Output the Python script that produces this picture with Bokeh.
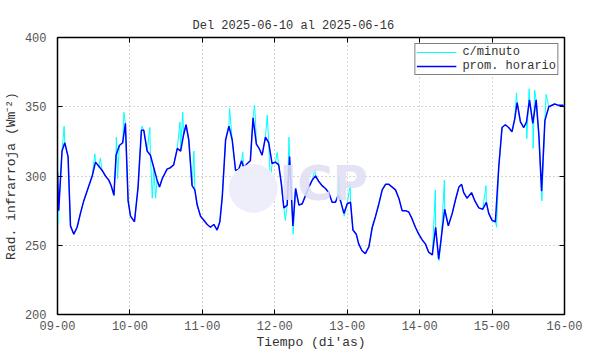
from bokeh.plotting import figure
from bokeh.models import Range1d, FixedTicker, LinearAxis, Legend, LegendItem, Label
from bokeh.embed import file_html
from bokeh.resources import INLINE

# hourly means (hours since 09-00, value W/m2)
hour_t = [0, 0.4, 1.5, 2.4, 3.5, 4.3, 5.4, 6.5, 7.6, 8.7, 10.4, 11.5, 12.6, 13.7, 14.8, 15.9, 17, 17.8,
          18.7, 19.4, 20.5, 21.6, 22.5, 23.4, 24.2, 25.5, 26.7, 27.8, 28.6, 29.7, 30.8, 31.9, 33, 33.8,
          34.7, 36.3, 37.4, 38.5, 39.7, 40.8, 41.8, 42.6, 43.5, 44.6, 45.5, 46.3, 47.4, 48.5, 49.6, 50.7,
          51.8, 52.9, 53.8, 54.6, 55.7, 56.8, 57.9, 59, 60.1, 61, 61.7, 62.9, 63.9, 64.8, 65.9, 66.8,
          67.8, 68.9, 70, 71.1, 72.2, 73.3, 74.2, 75, 76.1, 76.9, 78, 78.9, 80, 81.1, 82.2, 83.3, 84.4,
          85.5, 86.6, 87.7, 88.8, 89.9, 91, 92.1, 93, 93.8, 94.9, 96, 97.1, 97.9, 99, 99.8, 100.9, 102,
          103.2, 104.3, 105.4, 106.5, 107.6, 108.7, 109.8, 110.9, 112, 113.1, 114.2, 115.3, 116.4, 117.5,
          118.6, 119.7, 120.8, 121.9, 123, 124.2, 125.3, 126.3, 127.2, 128.3, 129.5, 130.8, 131.9, 133,
          133.9, 134.6, 135.7, 137.2, 138.3, 139.6, 140.9, 142.1, 142.9, 144, 145.1, 146.2, 147.3, 148.4,
          149.5, 150.6, 151.5, 152.3, 153.4, 154.5, 155.4, 156.4, 157.5, 158.6, 159.5, 160.4, 161.5,
          162.8, 164.7, 166.1, 167.7]
hour_v = [303, 275, 318, 324, 314, 264, 258, 263, 273, 282, 293, 300, 310, 307, 304, 300, 297, 293,
          286, 315, 322, 324, 338, 282, 271, 267, 292, 333, 333, 318, 315, 306, 297, 292,
          298, 305, 306, 308, 320, 318, 330, 337, 326, 293, 290, 279, 271, 268, 265, 263,
          265, 261, 267, 285, 326, 336, 326, 304, 305, 311, 306, 309, 311, 342, 323, 320,
          315, 328, 324, 309, 310, 308, 294, 277, 279, 314, 264, 291, 279, 280, 286, 292, 297,
          300, 296, 293, 291, 288, 281, 281, 286, 282, 273, 280, 281, 261, 258, 251, 246, 244,
          249, 263, 271, 280, 290, 294, 294, 292, 290, 284, 275, 275, 274, 269,
          263, 258, 254, 251, 245, 243, 263, 240, 256, 276, 264, 273, 283, 292,
          294, 288, 284, 288, 282, 277, 276, 281, 273, 268, 267, 306, 335, 337,
          335, 332, 341, 353, 339, 335, 339, 355, 338, 355, 330, 289, 340,
          350, 352, 351, 351]

# per-minute extremes (spikes)
spike_t = [-0.0, 0.2, 2.2, 12.4, 14.2, 19.5, 19.9, 22.0, 28.0, 30.6, 31.4, 32.5, 40.6, 41.5, 45.2,
           57.0, 61.4, 65.3, 65.6, 69.5, 70.5, 72.8, 75.5, 76.7, 78.1, 85.3, 93.2, 95.0, 97.0,
           125.2, 126.4, 128.2, 142.0, 145.5, 152.1, 155.5, 156.3, 157.6, 158.1, 160.5, 161.9]
spike_v = [318, 265, 336, 316, 313, 328, 298, 346, 336, 335, 284, 284, 339, 346, 318,
           349, 317, 351, 341, 344, 295, 317, 268, 328, 258, 305, 300, 271, 294,
           290, 239, 297, 293, 263, 360, 327, 363, 320, 362, 282, 359]

day_ticks = [0, 24, 48, 72, 96, 120, 144, 168]
day_labels = ["09-00", "10-00", "11-00", "12-00", "13-00", "14-00", "15-00", "16-00"]
y_ticks = [200, 250, 300, 350, 400]

pairs = sorted(list(zip(hour_t, hour_v)) + list(zip(spike_t, spike_v)))
min_t = [a for a, b in pairs]
min_v = [b for a, b in pairs]

FONT = "Liberation Mono"
p = figure(width=588, height=353, output_backend="svg", toolbar_location=None,
           x_range=Range1d(0, 168), y_range=Range1d(200, 400),
           min_border_left=57, min_border_right=24, min_border_top=37, min_border_bottom=39)
p.title.text = "Del 2025-06-10 al 2025-06-16"
p.title.align = "left"
p.title.offset = 135
p.title.text_font = FONT
p.title.text_font_size = "12px"
p.title.text_font_style = "normal"
p.title.text_color = "#333333"

p.outline_line_color = "black"
p.outline_line_width = 1.5
p.background_fill_color = "white"
p.border_fill_color = "white"

# faint watermark logo
disc = Label(x=196, y=132, x_units="screen", y_units="screen", text="\u25cf",
             text_font="DejaVu Sans", text_font_size="64px", text_align="center",
             text_baseline="middle", text_color="#eeeefb", text_alpha=1.0)
wm = Label(x=266, y=132, x_units="screen", y_units="screen", text="ICP",
           text_font="DejaVu Sans", text_font_style="bold", text_font_size="48px",
           text_align="center", text_baseline="middle",
           text_color="#e0e0f4", text_alpha=0.9)
p.add_layout(disc)
p.add_layout(wm)

r_min = p.line(min_t, min_v, line_color="#00ffff", line_width=1)
r_hour = p.line(hour_t, hour_v, line_color="#0000ff", line_width=1.5)

for ax in p.xaxis + p.yaxis:
    ax.major_label_text_font = FONT
    ax.major_label_text_font_size = "12px"
    ax.major_label_text_color = "#555555"
    ax.axis_label_text_font = FONT
    ax.axis_label_text_font_size = "13px"
    ax.axis_label_text_font_style = "normal"
    ax.axis_label_text_color = "#333333"
    ax.major_tick_in = 5
    ax.major_tick_out = 0
    ax.minor_tick_line_color = None
    ax.axis_line_color = "black"
    ax.major_tick_line_color = "black"

p.xaxis.ticker = FixedTicker(ticks=day_ticks)
p.xaxis.major_label_overrides = {t: l for t, l in zip(day_ticks, day_labels)}
p.xaxis.axis_label = "Tiempo (di'as)"
p.xaxis.major_label_standoff = 6
p.xaxis.axis_label_standoff = 2
p.yaxis.ticker = FixedTicker(ticks=y_ticks)
p.yaxis.axis_label = "Rad. infrarroja (Wm\u207b\u00b2)"
p.yaxis.major_label_standoff = 11
p.yaxis.axis_label_standoff = 3

top = LinearAxis(ticker=FixedTicker(ticks=day_ticks),
                 major_label_overrides={t: "" for t in day_ticks},
                 major_tick_in=5, major_tick_out=0, minor_tick_line_color=None)
right = LinearAxis(ticker=FixedTicker(ticks=y_ticks),
                   major_label_overrides={t: "" for t in y_ticks},
                   major_tick_in=5, major_tick_out=0, minor_tick_line_color=None)
p.add_layout(top, "above")
p.add_layout(right, "right")

p.xgrid.ticker = FixedTicker(ticks=day_ticks)
for g in p.xgrid + p.ygrid:
    g.grid_line_color = "#aaaaaa"
    g.grid_line_dash = "1 3"
    g.grid_line_width = 1

legend = Legend(items=[LegendItem(label="c/minuto", renderers=[r_min]),
                       LegendItem(label="prom. horario", renderers=[r_hour])],
                location="top_right")
legend.label_text_font = FONT
legend.label_text_font_size = "12px"
legend.label_text_line_height = 0.85
legend.label_text_color = "#333333"
legend.border_line_color = "black"
legend.border_line_width = 1
legend.margin = 6
legend.padding = 1
legend.spacing = 0
legend.glyph_width = 40
legend.glyph_height = 10
legend.label_height = 10
legend.label_standoff = 6
legend.background_fill_alpha = 1
p.add_layout(legend)

open("out.html", "w").write(file_html(p, INLINE))
